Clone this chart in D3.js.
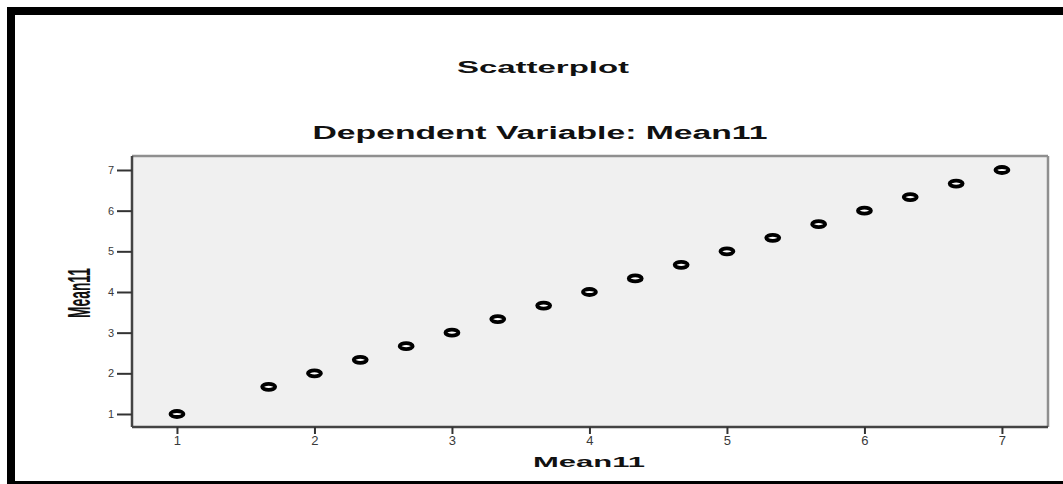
<!DOCTYPE html>
<html>
<head>
<meta charset="utf-8">
<script src="https://cdn.jsdelivr.net/npm/d3@7"></script>
<style>
html,body{margin:0;padding:0;background:#fff;}
svg{display:block;}
</style>
</head>
<body>
<script>
// Data: predicted vs observed values (Mean11)
const xValues = [1, 1.667, 2, 2.333, 2.667, 3, 3.333, 3.667, 4, 4.333, 4.667, 5, 5.333, 5.667, 6, 6.333, 6.667, 7];
const yValues = [1, 1.667, 2, 2.333, 2.667, 3, 3.333, 3.667, 4, 4.333, 4.667, 5, 5.333, 5.667, 6, 6.333, 6.667, 7];
const xTicks = [1, 2, 3, 4, 5, 6, 7];
const yTicks = [1, 2, 3, 4, 5, 6, 7];
const titleText = "Scatterplot";
const subtitleText = "Dependent Variable: Mean11";
const xLabel = "Mean11";
const yLabel = "Mean11";

const W = 1063, H = 484;
const svg = d3.select("body").append("svg").attr("width", W).attr("height", H);

// outer frame
svg.append("rect").attr("x", 11).attr("y", 11).attr("width", W + 20).attr("height", 474)
  .attr("fill", "#fff").attr("stroke", "#000").attr("stroke-width", 8);

const plot = {left: 132, right: 1048, top: 156, bottom: 427};
const x = d3.scaleLinear().domain([0.673, 7.335]).range([plot.left, plot.right]);
const y = d3.scaleLinear().domain([0.68, 7.344]).range([plot.bottom, plot.top]);

// plot background
svg.append("rect").attr("x", plot.left).attr("y", plot.top)
  .attr("width", plot.right - plot.left).attr("height", plot.bottom - plot.top)
  .attr("fill", "#f0f0f0");
// top and right border
svg.append("line").attr("x1", plot.left).attr("x2", plot.right).attr("y1", plot.top).attr("y2", plot.top)
  .attr("stroke", "#8f8f8f").attr("stroke-width", 2.5);
svg.append("line").attr("x1", plot.right).attr("x2", plot.right).attr("y1", plot.top).attr("y2", plot.bottom)
  .attr("stroke", "#8f8f8f").attr("stroke-width", 2.5);

// axes
const yAxis = svg.append("g").attr("transform", `translate(${plot.left},0)`)
  .call(d3.axisLeft(y).tickValues(yTicks).tickSize(15).tickPadding(3).tickFormat(d3.format("d")));
const xAxis = svg.append("g").attr("transform", `translate(0,${plot.bottom})`)
  .call(d3.axisBottom(x).tickValues(xTicks).tickSize(7).tickPadding(2).tickFormat(d3.format("d")));

[yAxis, xAxis].forEach(g => {
  g.select(".domain").attr("stroke", "#444").attr("stroke-width", 2.5);
  g.selectAll(".tick line").attr("stroke", "#333").attr("stroke-width", 2);
  g.selectAll(".tick text").attr("fill", "#3a3a3a").attr("font-family", "Arial, 'Liberation Sans', sans-serif");
});
yAxis.select(".domain").attr("d", `M0,${plot.top}V${plot.bottom}`);
xAxis.select(".domain").attr("d", `M${plot.left},0H${plot.right}`);
yAxis.selectAll(".tick text").attr("font-size", 11);
xAxis.selectAll(".tick text").attr("font-size", 13);

// points
svg.append("g").selectAll("ellipse").data(xValues.map((d, i) => [d, yValues[i]]))
  .join("ellipse")
  .attr("cx", d => x(d[0])).attr("cy", d => y(d[1]))
  .attr("rx", 6.5).attr("ry", 3)
  .attr("fill", "#fff").attr("stroke", "#000").attr("stroke-width", 3.8);

// titles
const font = "Arial, 'Liberation Sans', sans-serif";
svg.append("text").attr("x", 543).attr("y", 73).attr("text-anchor", "middle")
  .attr("font-family", font).attr("font-weight", "bold").attr("font-size", 16)
  .attr("textLength", 172).attr("lengthAdjust", "spacingAndGlyphs").attr("fill", "#111")
  .text(titleText);
svg.append("text").attr("x", 540).attr("y", 139).attr("text-anchor", "middle")
  .attr("font-family", font).attr("font-size", 18).attr("font-weight", "bold")
  .attr("textLength", 455).attr("lengthAdjust", "spacingAndGlyphs").attr("fill", "#111")
  .text(subtitleText);
svg.append("text").attr("x", 589).attr("y", 467).attr("text-anchor", "middle")
  .attr("font-family", font).attr("font-size", 15).attr("font-weight", "bold")
  .attr("textLength", 112).attr("lengthAdjust", "spacingAndGlyphs").attr("fill", "#111")
  .text(xLabel);
svg.append("text").attr("transform", "translate(90,293) rotate(-90)").attr("text-anchor", "middle")
  .attr("font-family", font).attr("font-size", 31).attr("font-weight", "bold")
  .attr("textLength", 50).attr("lengthAdjust", "spacingAndGlyphs").attr("fill", "#111")
  .text(yLabel);
</script>
</body>
</html>
